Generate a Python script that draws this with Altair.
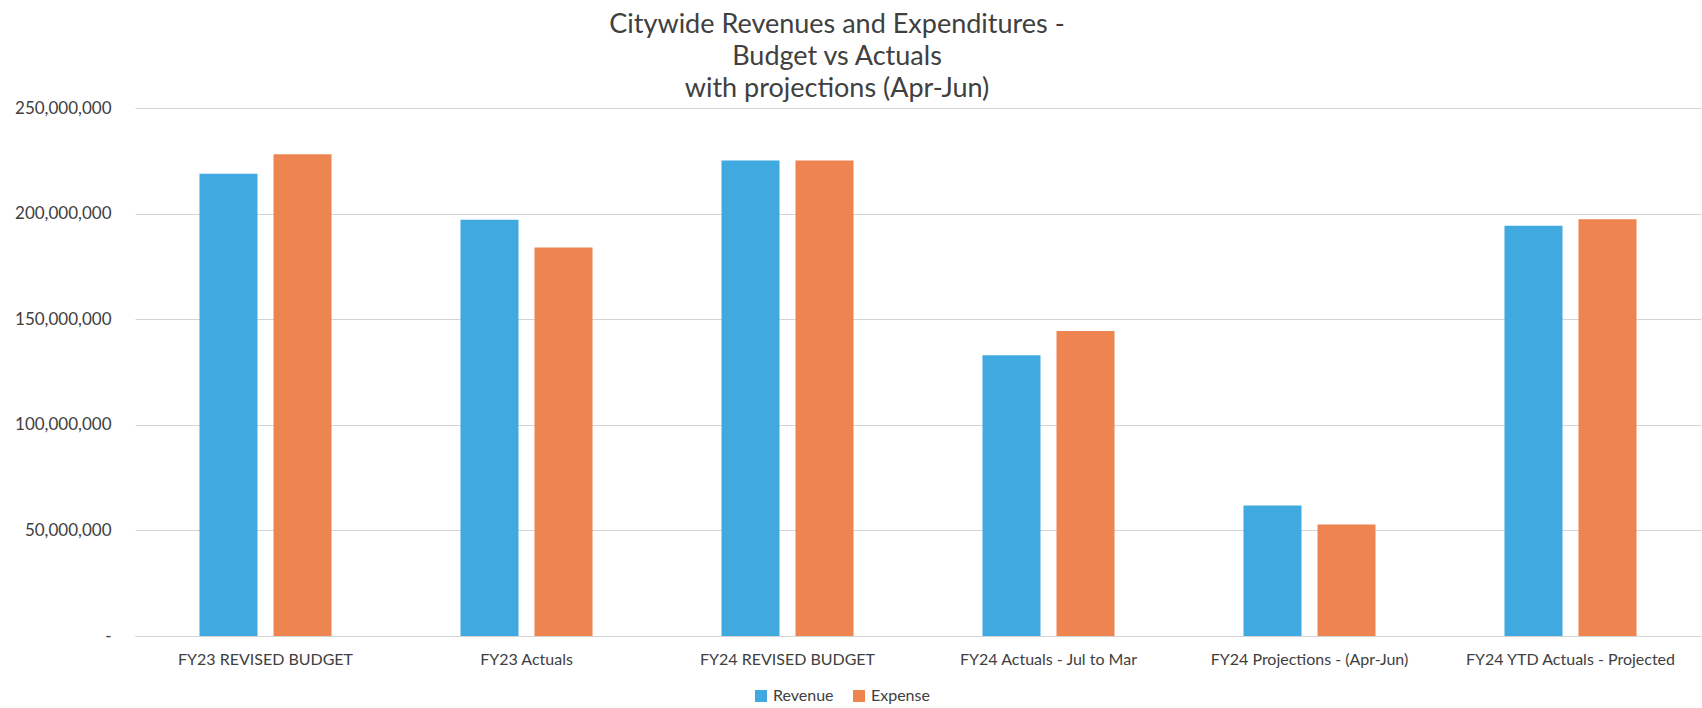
import altair as alt
import pandas as pd

categories = [
    "FY23 REVISED BUDGET",
    "FY23 Actuals",
    "FY24 REVISED BUDGET",
    "FY24 Actuals  - Jul to Mar",
    "FY24 Projections - (Apr-Jun)",
    "FY24 YTD Actuals  - Projected",
]
revenue = [218_900_000, 197_100_000, 225_200_000, 132_900_000, 61_800_000, 194_300_000]
expense = [228_100_000, 183_900_000, 225_200_000, 144_400_000, 52_800_000, 197_300_000]
series = ["Revenue", "Expense"]
colors = ["#3FA9E0", "#EE8550"]
y_ticks = [0, 50_000_000, 100_000_000, 150_000_000, 200_000_000, 250_000_000]
title_lines = [
    "Citywide Revenues and Expenditures -",
    "Budget vs Actuals",
    "with projections (Apr-Jun)",
]

rows = []
for c, r, e in zip(categories, revenue, expense):
    rows.append({"Category": c, "Series": "Revenue", "Value": r})
    rows.append({"Category": c, "Series": "Expense", "Value": e})
df = pd.DataFrame(rows)

FONT = "Lato"
TXT = "#404040"
GRID = "#d4d4d4"

chart = (
    alt.Chart(df)
    .mark_bar()
    .encode(
        x=alt.X(
            "Category:N",
            sort=categories,
            scale=alt.Scale(paddingInner=0, paddingOuter=0),
            axis=alt.Axis(
                title=None,
                labelAngle=0,
                labelFont=FONT,
                labelFontSize=16,
                labelColor=TXT,
                labelPadding=15,
                labelLimit=0,
                ticks=False,
                domainColor=GRID,
                domainWidth=1,
                grid=False,
            ),
        ),
        xOffset=alt.XOffset(
            "Series:N",
            sort=series,
            scale=alt.Scale(paddingInner=0.216, paddingOuter=0.871),
        ),
        y=alt.Y(
            "Value:Q",
            scale=alt.Scale(domain=[0, 250_000_000], nice=False),
            axis=alt.Axis(
                title=None,
                values=y_ticks,
                labelExpr="datum.value == 0 ? '-\u00a0\u00a0' : format(datum.value, ',d')",
                labelFont=FONT,
                labelFontSize=17,
                labelColor=TXT,
                labelPadding=24,
                ticks=False,
                domain=False,
                grid=True,
                gridColor=GRID,
                gridWidth=1,
            ),
        ),
        color=alt.Color(
            "Series:N",
            sort=series,
            scale=alt.Scale(domain=series, range=colors),
            legend=alt.Legend(
                title=None,
                orient="none",
                direction="horizontal",
                legendX=618,
                legendY=580,
                symbolType="square",
                symbolSize=144,
                symbolStrokeWidth=0,
                labelFont=FONT,
                labelFontSize=16,
                labelColor=TXT,
                labelOffset=4,
                columnPadding=17,
            ),
        ),
    )
    .properties(
        width=1566,
        height=528,
        autosize=alt.AutoSizeParams(type="none"),
        padding={"left": 135, "top": 108, "right": 1, "bottom": 72},
        title=alt.TitleParams(
            text=title_lines,
            anchor="middle",
            font=FONT,
            fontSize=27,
            fontWeight="normal",
            color=TXT,
            lineHeight=32,
            offset=-4,
            dx=-81,
        ),
    )
    .configure_view(stroke=None, fill="white")
)

chart.save("out.html", embed_options={"renderer": "svg", "actions": False})
